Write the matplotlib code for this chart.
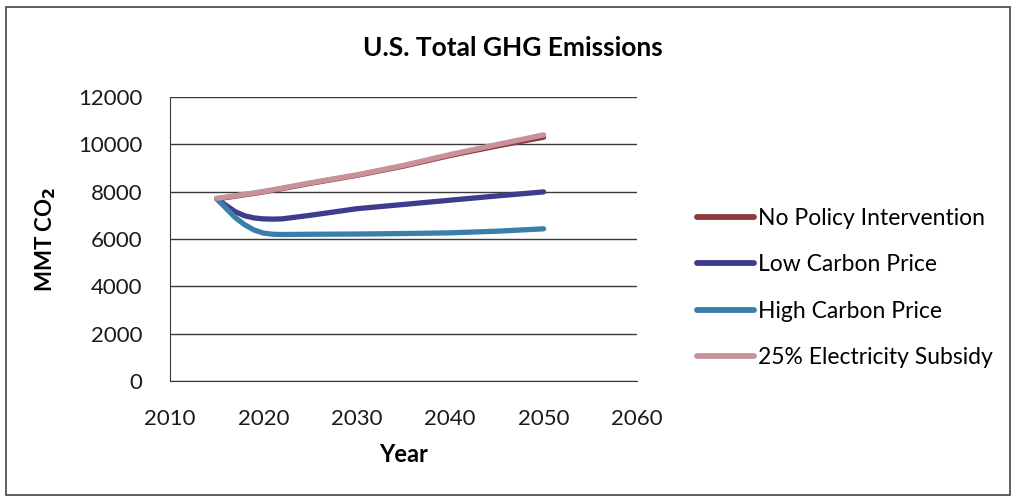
import matplotlib
matplotlib.use("Agg")
import matplotlib.pyplot as plt
from matplotlib.patches import Rectangle
import numpy as np

years = [2015, 2016, 2017, 2018, 2019, 2020, 2021, 2022, 2025, 2030, 2035, 2040, 2045, 2050]
no_policy = [7700, 7750, 7810, 7870, 7930, 7990, 8060, 8130, 8350, 8690, 9080, 9530, 9930, 10300]
low_carbon = [7700, 7420, 7150, 6980, 6890, 6850, 6840, 6850, 7000, 7280, 7460, 7640, 7820, 7990]
high_carbon = [7700, 7300, 6900, 6600, 6380, 6250, 6200, 6190, 6200, 6210, 6230, 6260, 6330, 6430]
subsidy = [7720, 7770, 7830, 7890, 7950, 8010, 8080, 8150, 8370, 8710, 9110, 9570, 9990, 10400]

series = [
    ("No Policy Intervention", no_policy, "#8E3B3E"),
    ("Low Carbon Price", low_carbon, "#3F3C8E"),
    ("High Carbon Price", high_carbon, "#3A7EAA"),
    ("25% Electricity Subsidy", subsidy, "#C8929B"),
]

plt.rcParams['font.family'] = ['Lato', 'DejaVu Sans']

fig = plt.figure(figsize=(10.18, 5.01), dpi=100)
W, H = 1018, 501
ax = fig.add_axes([170 / W, 1 - 381 / H, (637 - 170) / W, (381 - 97) / H])

for name, vals, col in series:
    ax.plot(years, vals, color=col, lw=3.8, solid_capstyle='round', label=name)

ax.set_xlim(2010, 2060)
ax.set_ylim(0, 12000)
ax.set_xticks(range(2010, 2061, 10))
ax.set_yticks(range(0, 12001, 2000))
ax.grid(axis='y', color='#3a3a3a', lw=1.0)
ax.set_axisbelow(True)
for s in ['top', 'right']:
    ax.spines[s].set_visible(False)
for s in ['left', 'bottom']:
    ax.spines[s].set_color('#3a3a3a')
ax.tick_params(axis='both', labelsize=16, length=0, colors='#1a1a1a')
ax.tick_params(axis='y', pad=20)
ax.tick_params(axis='x', pad=20)

ax.set_xlabel("Year", fontsize=17, fontweight='bold', labelpad=10)
ax.set_ylabel("MMT CO$_\\mathbf{2}$", fontsize=16, fontweight='bold', labelpad=14)

fig.text(513 / W, 1 - 48 / H, "U.S. Total GHG Emissions", fontsize=19, fontweight='bold',
         ha='center', va='center')

leg = fig.legend(loc='center left', bbox_to_anchor=(690 / W, 1 - 288 / H), frameon=False,
                 fontsize=16.5, handlelength=2.5, handletextpad=0.15, labelspacing=1.1,
                 borderaxespad=0, borderpad=0.3)
for l in leg.get_lines():
    l.set_linewidth(4.2)

fig.patches.append(Rectangle((6 / W, 6 / H), 1004 / W, 488 / H, transform=fig.transFigure,
                             fill=False, edgecolor='#444444', lw=1.2))

fig.savefig("out.png", dpi=100)
